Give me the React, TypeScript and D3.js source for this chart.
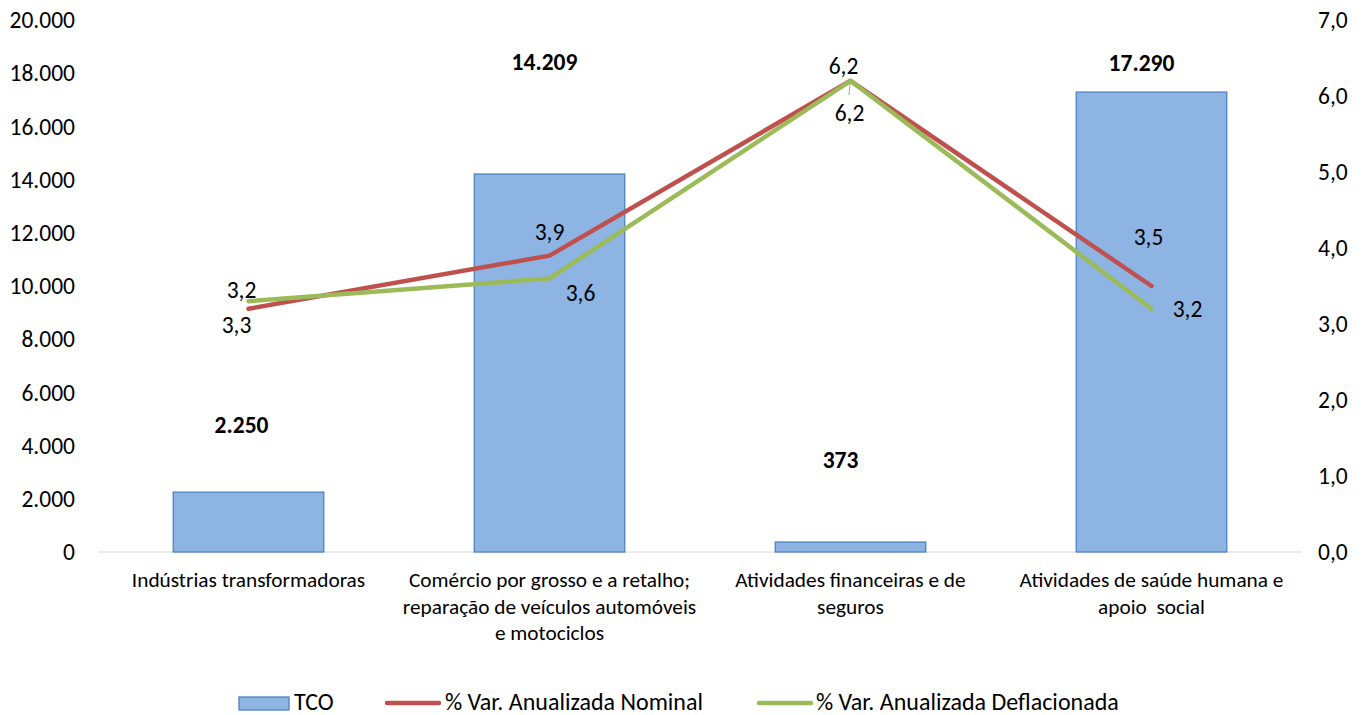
import React from "react";
import * as d3 from "d3";

const categories: string[][] = [
  ["Indústrias transformadoras"],
  ["Comércio por grosso e a retalho;", "reparação de veículos automóveis", "e motociclos"],
  ["Atividades financeiras e de", "seguros"],
  ["Atividades de saúde humana e", "apoio  social"],
];
const tco = [2250, 14209, 373, 17290];
const nominal = [3.2, 3.9, 6.2, 3.5];
const deflated = [3.3, 3.6, 6.2, 3.2];
const leftTicks = [0, 2000, 4000, 6000, 8000, 10000, 12000, 14000, 16000, 18000, 20000];
const rightTicks = [0, 1, 2, 3, 4, 5, 6, 7];

// label layout (offsets, px)
const barLabelOffset: [number, number][] = [[-7, -67], [-5, -112], [-10, -82], [-10, -29]];
const nomLabelOffset: [number, number][] = [[-7, -19], [0, -24], [-7, -15], [-3, -49]];
const defLabelOffset: [number, number][] = [[-12, 24], [31, 14], [-1, 32], [36, 0]];

const W = 1371, H = 715;
const FONT = "Carlito, Calibri, Lato, sans-serif";

export default function App() {
  const x = d3.scaleBand<number>().domain(d3.range(4)).range([98, 1302]).paddingInner(0).paddingOuter(0);
  const yL = d3.scaleLinear().domain([0, 20000]).range([552, 20]);
  const yR = d3.scaleLinear().domain([0, 7]).range([552, 20]);
  const fmtL = (v: number) => d3.format(",")(v).replace(/,/g, ".");
  const fmtR = (v: number) => v.toFixed(1).replace(".", ",");
  const bw = x.bandwidth() / 2;
  const cx = (i: number) => (x(i) as number) + x.bandwidth() / 2;
  const line = d3.line<number>().x((_, i) => cx(i)).y((d) => yR(d));
  const NUM = 23.5;

  return (
    <svg width={W} height={H} style={{ position: "absolute", left: 0, top: 0, background: "#fff" }}>
      <g fontFamily={FONT} fontSize={NUM} fill="#000">
        {leftTicks.map((t) => (
          <text key={"l" + t} x={75} y={yL(t)} dy="0.35em" textAnchor="end">{fmtL(t)}</text>
        ))}
        {rightTicks.map((t) => (
          <text key={"r" + t} x={1318} y={yR(t)} dy="0.35em" textAnchor="start">{fmtR(t)}</text>
        ))}
      </g>
      <line x1={98} x2={1302} y1={yL(0)} y2={yL(0)} stroke="#D9D9D9" strokeWidth={1} />
      {tco.map((v, i) => (
        <rect key={"b" + i} x={cx(i) - bw / 2} y={yL(v)} width={bw} height={yL(0) - yL(v)}
          fill="#8EB4E3" stroke="#4F81BD" strokeWidth={1.3} />
      ))}
      {tco.map((v, i) => (
        <text key={"bl" + i} x={cx(i) + barLabelOffset[i][0]} y={yL(v) + barLabelOffset[i][1]} dy="0.35em" textAnchor="middle"
          fontFamily={FONT} fontSize={NUM} fontWeight="bold">{fmtL(v)}</text>
      ))}
      <path d={line(nominal) || ""} fill="none" stroke="#C0504D" strokeWidth={4.5} strokeLinecap="round" strokeLinejoin="round" />
      <path d={line(deflated) || ""} fill="none" stroke="#9BBB59" strokeWidth={4.5} strokeLinecap="round" strokeLinejoin="round" />
      <line x1={850} y1={84} x2={849} y2={95} stroke="#A6A6A6" strokeWidth={1} />
      <g fontFamily={FONT} fontSize={NUM}>
        {nominal.map((v, i) => (
          <text key={"nl" + i} x={cx(i) + nomLabelOffset[i][0]} y={yR(v) + nomLabelOffset[i][1]} dy="0.35em" textAnchor="middle">{fmtR(v)}</text>
        ))}
        {deflated.map((v, i) => (
          <text key={"dl" + i} x={cx(i) + defLabelOffset[i][0]} y={yR(v) + defLabelOffset[i][1]} dy="0.35em" textAnchor="middle">{fmtR(v)}</text>
        ))}
      </g>
      <g fontFamily={FONT} fontSize={21.3}>
        {categories.map((lines, i) => (
          <text key={"c" + i} x={cx(i)} y={580} textAnchor="middle" style={{ whiteSpace: "pre" }}>
            {lines.map((l, j) => (
              <tspan key={j} x={cx(i)} y={580 + j * 26.5} dy="0.35em">{l}</tspan>
            ))}
          </text>
        ))}
      </g>
      <g fontFamily={FONT} fontSize={24}>
        <rect x={239} y={697} width={50} height={13} fill="#8EB4E3" stroke="#4F81BD" strokeWidth={1.3} />
        <text x={294} y={702} dy="0.33em">TCO</text>
        <line x1={387} x2={439} y1={703} y2={703} stroke="#C0504D" strokeWidth={4.5} strokeLinecap="round" />
        <text x={445} y={702} dy="0.33em">% Var. Anualizada Nominal</text>
        <line x1={759} x2={811} y1={703} y2={703} stroke="#9BBB59" strokeWidth={4.5} strokeLinecap="round" />
        <text x={816} y={702} dy="0.33em">% Var. Anualizada Deflacionada</text>
      </g>
    </svg>
  );
}
